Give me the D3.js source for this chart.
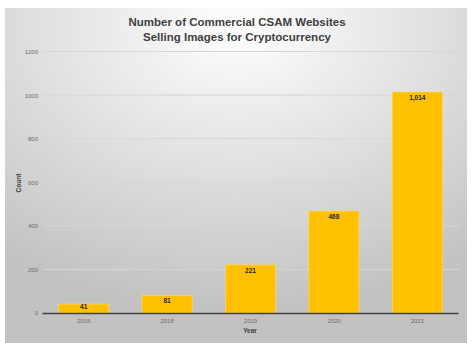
<!DOCTYPE html>
<html lang="en">
<head>
	<meta charset="UTF-8"/>
	<title>Commercial CSAM Websites Selling Images for Cryptocurrency</title>
	<script src="https://d3js.org/d3.v7.min.js"></script>
	<style>
		body { margin: 0; background: #fff; }
		text { font-family: "Liberation Sans", Arial, sans-serif; }
	</style>
</head>
<body>
	<script>
		var w = 474;
		var h = 353;

		var years = ["2016", "2018", "2019", "2020", "2021"];
		var counts = [41, 81, 221, 468, 1014];
		var yTicks = [0, 200, 400, 600, 800, 1000, 1200];

		var svg = d3.select("body")
					.append("svg")
					.attr("width", w)
					.attr("height", h);

		// chart area background
		var defs = svg.append("defs");
		var grad = defs.append("radialGradient")
			.attr("id", "bg")
			.attr("cx", "50%").attr("cy", "5%")
			.attr("r", "85%");
		grad.append("stop").attr("offset", "0%").attr("stop-color", "#ffffff");
		grad.append("stop").attr("offset", "100%").attr("stop-color", "#c2c2c2");

		svg.append("rect")
			.attr("x", 5).attr("y", 8)
			.attr("width", 462).attr("height", 335)
			.attr("fill", "url(#bg)");

		var xScale = d3.scaleBand()
					.domain(years)
					.range([42, 459])
					.paddingInner(0.4)
					.paddingOuter(0.2);

		var yScale = d3.scaleLinear()
					.domain([0, 1200])
					.range([313, 51.5]);

		// gridlines
		svg.append("g")
			.selectAll("line")
			.data(yTicks.slice(1))
			.enter()
			.append("line")
			.attr("x1", 43).attr("x2", 459)
			.attr("y1", function(d){ return yScale(d); })
			.attr("y2", function(d){ return yScale(d); })
			.attr("stroke", "#d6d6d6")
			.attr("stroke-width", 1);

		var yAxis = d3.axisLeft(yScale)
					.tickValues(yTicks)
					.tickFormat(d3.format("d"))
					.tickSize(0)
					.tickPadding(0);

		var gy = svg.append("g")
			.attr("transform", "translate(38,0)")
			.call(yAxis);
		gy.select(".domain").remove();
		gy.selectAll("text")
			.attr("font-size", 6)
			.attr("fill", "#6b6b6b");

		// bars
		svg.selectAll("rect.bar")
			.data(counts)
			.enter()
			.append("rect")
			.attr("class", "bar")
			.attr("x", function(d, i){ return xScale(years[i]); })
			.attr("y", function(d){ return yScale(d); })
			.attr("width", xScale.bandwidth())
			.attr("height", function(d){ return yScale(0) - yScale(d); })
			.attr("fill", "#ffc000")
			.attr("stroke", "#ffd966")
			.attr("stroke-width", 0.7);

		svg.selectAll("text.val")
			.data(counts)
			.enter()
			.append("text")
			.attr("class", "val")
			.attr("text-anchor", "middle")
			.attr("x", function(d, i){ return xScale(years[i]) + xScale.bandwidth() / 2; })
			.attr("y", function(d){ return Math.min(yScale(d) + 8, 308.5); })
			.attr("font-size", 6.5)
			.attr("font-weight", "bold")
			.attr("fill", "#262626")
			.text(function(d){ return d3.format(",")(d); });

		var xAxis = d3.axisBottom(xScale)
					.tickSize(0)
					.tickPadding(6);

		var gx = svg.append("g")
			.attr("transform", "translate(0,313)")
			.call(xAxis);
		gx.select(".domain")
			.attr("d", "M42.5,0.5H458.5")
			.attr("stroke", "#404040")
			.attr("stroke-width", 1.3);
		gx.selectAll("text")
			.attr("font-size", 6)
			.attr("fill", "#6b6b6b");

		// titles
		svg.append("text")
			.attr("text-anchor", "middle")
			.attr("x", 237).attr("y", 26)
			.attr("font-size", 11.5)
			.attr("font-weight", "bold")
			.attr("fill", "#404040")
			.text("Number of Commercial CSAM Websites");

		svg.append("text")
			.attr("text-anchor", "middle")
			.attr("x", 237).attr("y", 41)
			.attr("font-size", 11.5)
			.attr("font-weight", "bold")
			.attr("fill", "#404040")
			.text("Selling Images for Cryptocurrency");

		// axis labels
		svg.append("text")
			.attr("text-anchor", "middle")
			.attr("x", 250).attr("y", 333)
			.attr("font-size", 6.5)
			.attr("font-weight", "bold")
			.attr("fill", "#404040")
			.text("Year");

		svg.append("text")
			.attr("text-anchor", "middle")
			.attr("transform", "rotate(-90)")
			.attr("x", -183).attr("y", 21)
			.attr("font-size", 6.5)
			.attr("font-weight", "bold")
			.attr("fill", "#404040")
			.text("Count");
	</script>
</body>
</html>
